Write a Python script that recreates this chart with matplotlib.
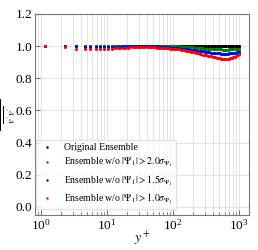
import matplotlib
matplotlib.use("Agg")
import matplotlib.pyplot as plt

plt.rcParams["font.family"] = "serif"
plt.rcParams["font.serif"] = ["Liberation Serif", "DejaVu Serif"]
plt.rcParams["mathtext.fontset"] = "stix"

# wall distance
yplus = [1.14, 2.29, 3.39, 4.55, 5.6, 6.8, 7.9, 9.1, 10.4, 11.8,
         13.1, 14.4, 15.8, 17.3, 18.9, 20.6, 22.4, 24.3, 26.3, 28.4,
         30.6, 33.0, 35.5, 38.1, 40.9, 43.8, 46.9, 50.2, 53.7, 57.4,
         61.3, 65.4, 69.8, 74.4, 79.3, 84.5, 90.0, 95.8, 102, 108,
         115, 122, 130, 138, 147, 156, 166, 176, 187, 199,
         211, 224, 238, 252, 267, 283, 300, 317, 335, 354,
         374, 394, 415, 437, 460, 484, 508, 533, 559, 585,
         612, 640, 668, 697, 726, 756, 786, 817, 848, 880,
         912, 944, 976, 1000]

# ratio v'v'_SSM / v'v'
ratio_orig = [1.0, 1.0, 1.0, 1.0, 1.0, 1.0, 1.0, 1.0, 1.0, 1.0,
              1.0, 1.0, 1.0, 1.0, 1.0, 1.0, 1.0, 1.0, 1.0, 1.0,
              1.0, 1.0, 1.0, 1.0, 1.0, 1.0, 1.0, 1.0, 1.0, 1.0,
              1.0, 1.0, 1.0, 1.0, 1.0, 1.0, 1.0, 1.0, 1.0, 1.0,
              1.0, 1.0, 1.0, 1.0, 1.0, 1.0, 1.0, 1.0, 1.0, 1.0,
              1.0, 1.0, 1.0, 1.0, 1.0, 1.0, 1.0, 1.0, 1.0, 1.0,
              1.0, 1.0, 1.0, 1.0, 1.0, 1.0, 1.0, 1.0, 1.0, 1.0,
              1.0, 1.0, 1.0, 1.0, 1.0, 1.0, 1.0, 1.0, 1.0, 1.0,
              1.0, 1.0, 1.0, 1.0]

ratio_20 = [0.999, 0.999, 0.998, 0.998, 0.998, 0.998, 0.998, 0.998, 0.999, 0.999,
            0.999, 0.999, 0.999, 0.999, 0.999, 1.0, 1.0, 1.0, 1.0, 1.0,
            1.0, 1.0, 1.0, 1.0, 1.0, 1.0, 1.0, 1.0, 1.0, 1.0,
            1.0, 1.0, 1.0, 1.0, 1.0, 1.0, 1.0, 1.0, 0.999, 0.999,
            0.998, 0.998, 0.997, 0.997, 0.996, 0.995, 0.995, 0.994, 0.993, 0.992,
            0.991, 0.990, 0.989, 0.988, 0.987, 0.986, 0.985, 0.985, 0.984, 0.983,
            0.983, 0.982, 0.982, 0.981, 0.981, 0.980, 0.980, 0.980, 0.979, 0.979,
            0.979, 0.979, 0.979, 0.980, 0.980, 0.980, 0.980, 0.981, 0.981, 0.981,
            0.982, 0.982, 0.982, 0.983]

ratio_15 = [1.0, 0.999, 0.998, 0.997, 0.996, 0.996, 0.996, 0.996, 0.996, 0.997,
            0.997, 0.997, 0.997, 0.998, 0.998, 0.998, 0.998, 0.998, 0.999, 0.999,
            0.999, 1.0, 1.0, 1.0, 1.0, 1.0, 0.999, 0.999, 0.998, 0.998,
            0.997, 0.996, 0.995, 0.994, 0.993, 0.992, 0.991, 0.990, 0.989, 0.988,
            0.987, 0.986, 0.985, 0.984, 0.983, 0.981, 0.980, 0.979, 0.977, 0.976,
            0.975, 0.973, 0.972, 0.970, 0.969, 0.967, 0.966, 0.964, 0.963, 0.962,
            0.960, 0.959, 0.958, 0.957, 0.956, 0.955, 0.955, 0.954, 0.954, 0.954,
            0.954, 0.954, 0.954, 0.955, 0.955, 0.956, 0.957, 0.958, 0.959, 0.960,
            0.961, 0.962, 0.963, 0.964]

ratio_10 = [0.998, 0.992, 0.985, 0.982, 0.980, 0.980, 0.981, 0.982, 0.983, 0.985,
            0.986, 0.987, 0.988, 0.989, 0.990, 0.991, 0.992, 0.992, 0.993, 0.993,
            0.994, 0.994, 0.994, 0.994, 0.994, 0.994, 0.993, 0.993, 0.992, 0.991,
            0.990, 0.989, 0.988, 0.987, 0.986, 0.986, 0.985, 0.985, 0.984, 0.983,
            0.981, 0.980, 0.978, 0.976, 0.974, 0.972, 0.970, 0.968, 0.965, 0.963,
            0.961, 0.958, 0.956, 0.953, 0.951, 0.948, 0.946, 0.943, 0.941, 0.938,
            0.936, 0.934, 0.932, 0.930, 0.928, 0.926, 0.925, 0.923, 0.922, 0.921,
            0.921, 0.921, 0.922, 0.923, 0.925, 0.927, 0.929, 0.932, 0.935, 0.938,
            0.942, 0.946, 0.950, 0.953]

labels = ["Original Ensemble",
          r"Ensemble w/o $|\Psi_1| > 2.0\sigma_{\Psi_1}$",
          r"Ensemble w/o $|\Psi_1| > 1.5\sigma_{\Psi_1}$",
          r"Ensemble w/o $|\Psi_1| > 1.0\sigma_{\Psi_1}$"]
colors = ["black", "green", "blue", "red"]

fig = plt.figure(figsize=(2.58, 2.5), dpi=100)
ax = fig.add_axes([0.136, 0.14, 0.829, 0.804])

for vals, c, lab in zip([ratio_orig, ratio_20, ratio_15, ratio_10], colors, labels):
    ax.plot(yplus, vals, linestyle="none", marker="o", ms=2.2, mew=0, color=c, label=lab)

ax.set_xscale("log")
ax.set_ylim(-0.05, 1.2)
ax.set_yticks([0.0, 0.2, 0.4, 0.6, 0.8, 1.0, 1.2])
ax.grid(True, which="both", color="#e3e3e3", lw=0.7)
ax.set_axisbelow(True)
ax.tick_params(which="both", direction="in", labelsize=9.5, pad=2, color="#777777")
for sp in ax.spines.values():
    sp.set_color("#777777")

ax.set_xlabel(r"$y^+$", fontsize=10, labelpad=-2)
ax.set_ylabel(r"$\frac{\overline{v^\prime v^\prime}_{SSM}}{\overline{v^\prime v^\prime}}$",
              fontsize=11)
ax.yaxis.set_label_coords(-0.078, 0.5)

leg = ax.legend(loc="lower left", bbox_to_anchor=(0.005, 0.03), fontsize=7,
                markerscale=0.8, handletextpad=0.9, handlelength=1.6,
                borderaxespad=0, borderpad=0.35, fancybox=False,
                edgecolor="#dddddd", labelspacing=0.36)

fig.savefig("out.png", dpi=100)
